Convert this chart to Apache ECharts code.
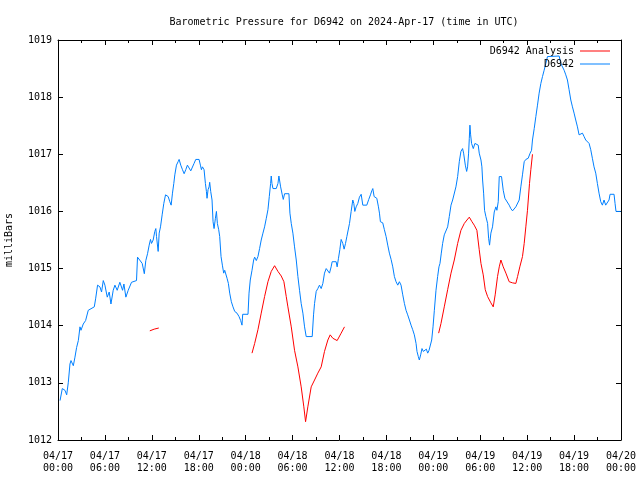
<!DOCTYPE html>
<html>
<head>
<meta charset="utf-8">
<script src="https://cdn.jsdelivr.net/npm/echarts@6/dist/echarts.min.js"></script>
<style>html,body{margin:0;padding:0;background:#fff}#c{width:640px;height:480px}</style>
</head>
<body>
<div id="c"></div>
<script>
var titleText = 'Barometric Pressure for D6942 on 2024-Apr-17 (time in UTC)';
var yName = 'milliBars';
var seriesNames = ['D6942 Analysis', 'D6942'];
var yTicks = [1012, 1013, 1014, 1015, 1016, 1017, 1018, 1019];
var xTickHours = [0, 6, 12, 18, 24, 30, 36, 42, 48, 54, 60, 66, 72];

// hours since 2024-04-17 00:00 UTC
var blueHours = [0.26,0.55,0.89,1.11,1.32,1.53,1.66,1.96,2.17,2.38,2.60,2.81,2.94,3.23,3.53,3.87,4.08,4.64,4.81,5.06,5.36,5.57,5.79,6.00,6.30,6.55,6.77,7.06,7.28,7.57,7.91,8.13,8.26,8.43,8.68,8.98,9.40,9.62,10.04,10.17,10.34,10.77,11.04,11.23,11.45,11.66,11.83,
11.96,12.17,12.38,12.51,12.60,12.81,12.94,13.11,13.32,13.53,13.75,13.87,14.09,14.30,14.47,14.64,14.81,14.94,15.15,15.36,15.49,15.70,15.92,16.13,16.34,16.55,16.77,16.98,17.19,17.40,17.62,18.04,18.21,18.34,18.47,18.68,18.85,18.98,19.06,19.19,19.32,19.40,19.53,19.70,19.83,19.96,20.13,20.26,20.38,20.55,20.68,20.85,21.02,21.19,21.32,21.45,21.62,21.79,21.96,22.17,22.38,22.60,22.89,23.15,23.36,23.53,23.62,24.30,
24.43,24.59,24.81,25.02,25.15,25.36,25.57,25.78,25.99,26.21,26.42,26.64,26.85,27.02,27.19,27.27,27.36,27.49,27.91,28.13,28.25,28.47,28.68,28.81,28.98,29.53,29.66,29.83,30.04,30.25,30.47,30.68,30.89,31.10,31.32,31.53,31.74,32.51,32.68,32.81,33.02,33.23,33.44,33.66,33.87,34.08,34.30,34.51,34.72,34.93,35.06,35.57,35.70,35.87,36.04,36.21,36.42,36.59,
36.77,36.94,37.15,37.28,37.49,37.70,37.83,37.96,38.13,38.34,38.55,38.77,38.98,39.49,39.74,39.96,40.13,40.26,40.43,40.60,40.77,40.98,41.11,41.23,41.53,41.74,41.96,42.17,42.38,42.60,42.81,43.02,43.23,43.45,43.66,43.87,44.09,44.30,44.51,44.72,44.94,45.15,45.36,45.57,45.79,45.91,46.08,46.21,46.38,46.55,46.72,46.94,47.11,47.28,47.45,47.62,47.79,47.96,48.13,48.34,48.55,48.72,
48.85,49.02,49.19,49.40,49.62,49.83,50.04,50.26,50.47,50.68,50.89,51.11,51.32,51.53,51.74,51.87,52.09,52.26,52.38,52.51,52.60,52.68,52.77,52.89,53.11,53.32,53.53,53.74,53.87,54.09,54.21,54.30,54.43,54.55,54.72,54.94,55.07,55.19,55.36,55.57,55.79,56.00,56.13,56.30,56.43,56.72,56.94,57.15,57.40,57.70,57.91,58.13,58.34,58.55,58.77,58.98,59.19,59.40,59.62,59.83,60.13,
60.38,60.56,60.68,60.90,61.11,61.32,61.53,61.75,61.96,62.17,62.39,62.60,62.81,64.09,64.30,64.51,64.73,64.94,65.15,65.36,65.58,65.79,66.00,66.21,66.43,66.64,66.85,67.07,67.28,67.49,67.70,67.92,68.13,68.34,68.55,68.77,68.98,69.19,69.41,69.62,69.83,70.04,70.26,70.47,70.60,71.11,71.24,71.36,71.96];
var bluePressure = [1012.69,1012.90,1012.87,1012.79,1013.01,1013.33,1013.39,1013.30,1013.45,1013.62,1013.74,1013.98,1013.92,1014.03,1014.09,1014.27,1014.30,1014.33,1014.47,1014.71,1014.68,1014.59,1014.79,1014.71,1014.50,1014.59,1014.38,1014.62,1014.71,1014.62,1014.76,1014.79,1014.62,1014.73,1014.50,1014.62,1014.76,1014.79,1014.79,1015.20,1015.17,1015.09,1014.91,1015.14,1015.26,1015.41,1015.51,
1015.44,1015.50,1015.65,1015.70,1015.56,1015.30,1015.62,1015.73,1015.94,1016.14,1016.29,1016.32,1016.26,1016.17,1016.11,1016.32,1016.49,1016.64,1016.81,1016.87,1016.91,1016.81,1016.73,1016.66,1016.73,1016.81,1016.80,1016.71,1016.71,1016.84,1016.91,1016.91,1016.81,1016.73,1016.78,1016.73,1016.49,1016.35,1016.23,1016.38,1016.43,1016.51,1016.35,1016.20,1015.82,1015.70,1015.88,1016.00,1015.79,1015.68,1015.56,1015.21,1015.06,1014.92,1014.97,1015.00,1014.83,1014.74,1014.57,1014.42,1014.33,1014.25,1014.22,1014.16,1014.09,1014.01,1014.20,1014.20,
1014.57,1014.80,1014.97,1015.15,1015.20,1015.14,1015.21,1015.35,1015.50,1015.62,1015.73,1015.88,1016.03,1016.26,1016.49,1016.62,1016.49,1016.40,1016.40,1016.49,1016.62,1016.43,1016.29,1016.21,1016.31,1016.31,1015.97,1015.79,1015.62,1015.38,1015.15,1014.86,1014.62,1014.39,1014.22,1013.98,1013.81,1013.81,1014.19,1014.39,1014.60,1014.65,1014.71,1014.65,1014.74,1014.92,1015.00,1014.97,1014.92,1015.03,1015.12,1015.12,1015.03,1015.18,1015.33,1015.51,1015.44,1015.34,
1015.44,1015.56,1015.59,1015.79,1016.00,1016.20,1016.14,1016.00,1016.08,1016.14,1016.25,1016.30,1016.11,1016.11,1016.21,1016.29,1016.36,1016.40,1016.26,1016.29,1016.23,1016.08,1015.97,1015.82,1015.80,1015.68,1015.56,1015.41,1015.27,1015.16,1015.03,1014.86,1014.77,1014.71,1014.77,1014.71,1014.54,1014.39,1014.27,1014.19,1014.10,1014.01,1013.93,1013.84,1013.69,1013.55,1013.46,1013.40,1013.49,1013.60,1013.55,1013.52,1013.59,1013.52,1013.57,1013.55,1013.75,1013.98,1014.27,1014.62,1014.86,1015.03,
1015.09,1015.27,1015.44,1015.59,1015.59,1015.73,1015.91,1016.11,1016.20,1016.23,1016.43,1016.61,1016.87,1017.05,1017.10,1017.02,1016.81,1016.70,1016.78,1017.02,1017.28,1017.51,1017.34,1017.19,1017.10,1017.19,1017.21,1017.16,1017.02,1016.90,1016.78,1016.55,1016.32,1016.02,1015.91,1015.79,1015.53,1015.41,1015.62,1015.73,1015.99,1016.08,1016.02,1016.17,1016.61,1016.61,1016.37,1016.23,1016.20,1016.11,1016.05,1016.01,1016.01,1016.08,1016.11,1016.20,1016.43,1016.64,1016.87,1016.91,1016.93,
1017.02,1017.07,1017.25,1017.45,1017.66,1017.86,1018.07,1018.24,1018.36,1018.47,1018.59,1018.71,1018.72,1018.72,1018.59,1018.56,1018.47,1018.39,1018.30,1018.13,1017.95,1017.83,1017.72,1017.60,1017.48,1017.34,1017.31,1017.37,1017.31,1017.25,1017.22,1017.19,1017.08,1016.93,1016.78,1016.67,1016.49,1016.32,1016.17,1016.11,1016.20,1016.11,1016.11,1016.20,1016.30,1016.30,1016.14,1016.00,1016.00];

// analysis segments, null marks a gap
var redHours = [11.74,12.30,12.89, 18,
24.81,25.15,25.57,25.99,26.42,26.85,27.27,27.70,28.13,28.55,28.89,29.19,29.40,29.83,30.25,30.68,31.10,31.44,31.66,31.95,32.38,32.81,33.23,33.66,34.08,34.51,34.81,35.15,35.70,36.21,36.64, 42,
48.68,48.98,49.40,49.83,50.26,50.68,51.11,51.53,51.96,52.30,52.60,52.94,53.23,53.57,53.87,54.09,54.38,54.64,54.94,55.36,55.66,55.91,56.21,56.43,56.64,56.94,57.28,57.70,58.13,58.55,58.77,59.06,59.40,59.62,59.83,60.04,60.30,60.47,60.68];
var redPressure = [1013.91,1013.94,1013.96, null,
1013.52,1013.69,1013.93,1014.22,1014.51,1014.77,1014.95,1015.05,1014.95,1014.87,1014.77,1014.51,1014.33,1013.98,1013.57,1013.28,1012.93,1012.58,1012.32,1012.58,1012.93,1013.05,1013.17,1013.28,1013.55,1013.75,1013.84,1013.78,1013.74,1013.87,1013.98, null,
1013.87,1014.04,1014.33,1014.63,1014.92,1015.15,1015.44,1015.67,1015.79,1015.85,1015.90,1015.82,1015.76,1015.67,1015.33,1015.09,1014.89,1014.63,1014.51,1014.40,1014.33,1014.54,1014.86,1015.03,1015.15,1015.03,1014.92,1014.77,1014.75,1014.74,1014.86,1015.03,1015.21,1015.44,1015.73,1016.02,1016.49,1016.73,1017.00];

function zip(a, b) { return a.map(function (v, i) { return [v, b[i]]; }); }
function pad(n) { return (n < 10 ? '0' : '') + n; }
function fmtHour(v) {
  var d = 17 + Math.floor(v / 24 + 1e-9);
  var h = Math.round(v - (d - 17) * 24);
  return '04/' + pad(d) + '\n' + pad(h) + ':00';
}

var FONT = 'DejaVu Sans Mono';
var chart = echarts.init(document.getElementById('c'), null, {renderer: 'canvas'});
var xCommon = {
  type: 'value', min: xTickHours[0], max: xTickHours[xTickHours.length - 1], interval: 6,
  axisLine: {show: true, onZero: false, lineStyle: {color: '#000', width: 1}},
  axisTick: {show: true, inside: true, length: 5, lineStyle: {color: '#000'}},
  minorTick: {show: true, splitNumber: 2, length: 3, lineStyle: {color: '#000'}},
  splitLine: {show: false}
};
var yCommon = {
  type: 'value', min: yTicks[0], max: yTicks[yTicks.length - 1], interval: 1,
  axisLine: {show: true, onZero: false, lineStyle: {color: '#000', width: 1}},
  axisTick: {show: true, inside: true, length: 5, lineStyle: {color: '#000'}},
  splitLine: {show: false}
};
var legendCommon = {
  right: 30, padding: 0, align: 'right', icon: 'rect', itemWidth: 30, itemHeight: 1, itemGap: 0,
  textStyle: {fontFamily: FONT, fontSize: 10, color: '#000', padding: [0, 1, 0, 0]}
};
chart.setOption({
  animation: false,
  backgroundColor: '#fff',
  title: {
    text: titleText, left: 339, top: 12, textAlign: 'center',
    textStyle: {fontFamily: FONT, fontSize: 10, fontWeight: 'normal', color: '#000'}
  },
  legend: [
    Object.assign({}, legendCommon, {data: [seriesNames[0]], top: 46}),
    Object.assign({}, legendCommon, {data: [seriesNames[1]], top: 59})
  ],
  grid: {left: 58, right: 19, top: 40, bottom: 40, containLabel: false, outerBoundsMode: 'none'},
  xAxis: [
    Object.assign({}, xCommon, {position: 'bottom',
      axisLabel: {show: true, margin: 10, fontFamily: FONT, fontSize: 10, color: '#000', lineHeight: 12, formatter: fmtHour}}),
    Object.assign({}, xCommon, {position: 'top', axisLabel: {show: false}})
  ],
  yAxis: [
    Object.assign({}, yCommon, {position: 'left', name: yName, nameLocation: 'middle', nameGap: 44, nameRotate: 90,
      nameTextStyle: {fontFamily: FONT, fontSize: 10, color: '#000'},
      axisLabel: {show: true, margin: 6, fontFamily: FONT, fontSize: 10, color: '#000', formatter: function (v) { return String(v); }}}),
    Object.assign({}, yCommon, {position: 'right', axisLabel: {show: false}})
  ],
  series: [
    {name: seriesNames[0], type: 'line', xAxisIndex: 0, yAxisIndex: 0, data: zip(redHours, redPressure),
     symbol: 'none', connectNulls: false, lineStyle: {color: '#ff0000', width: 1}, itemStyle: {color: '#ff0000'}},
    {name: seriesNames[1], type: 'line', xAxisIndex: 0, yAxisIndex: 0, data: zip(blueHours, bluePressure),
     symbol: 'none', lineStyle: {color: '#0080ff', width: 1}, itemStyle: {color: '#0080ff'}}
  ]
});
</script>
</body>
</html>
